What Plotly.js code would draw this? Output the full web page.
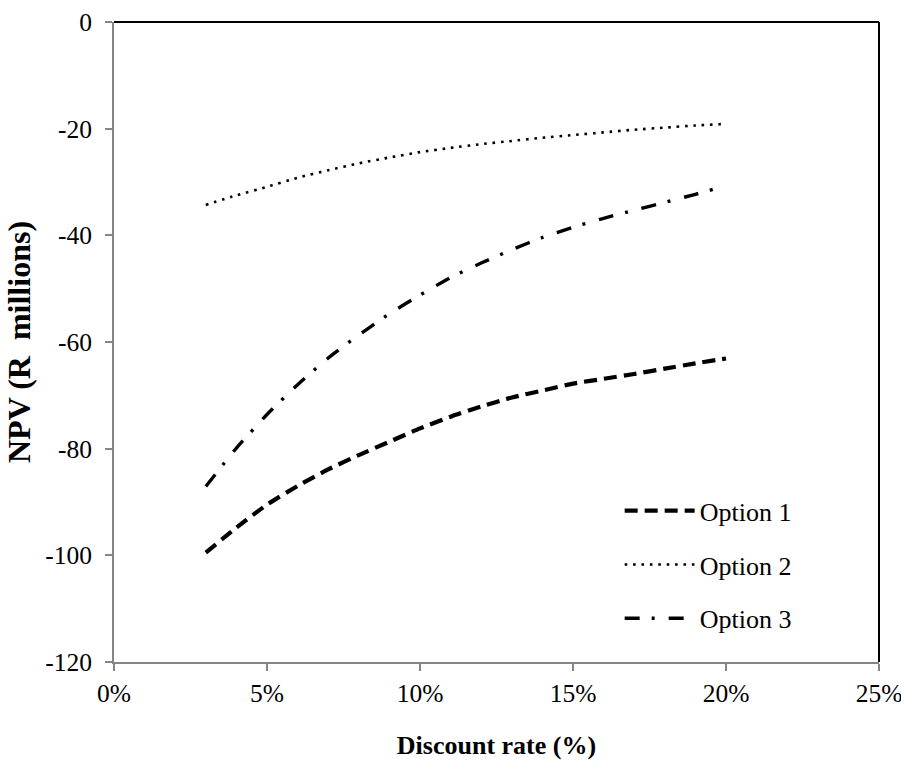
<!DOCTYPE html>
<html>
<head>
<meta charset="utf-8">
<script src="https://cdn.plot.ly/plotly-3.0.1.min.js"></script>
<style>html,body{margin:0;padding:0;background:#fff;}</style>
</head>
<body>
<div id="chart" style="width:901px;height:760px;"></div>
<script>
const rates = [0.03,0.04,0.05,0.06,0.07,0.08,0.09,0.10,0.11,0.12,0.13,0.14,0.15,0.16,0.17,0.18,0.19,0.20];
const option1 = [-99.5,-94.8,-90.5,-87.0,-83.9,-81.2,-78.7,-76.2,-74.0,-72.1,-70.4,-69.1,-67.8,-66.9,-66.0,-65.0,-64.0,-63.1];
const option2 = [-34.3,-32.5,-30.9,-29.2,-27.8,-26.5,-25.4,-24.4,-23.6,-22.9,-22.3,-21.7,-21.2,-20.7,-20.2,-19.8,-19.4,-19.1];
const option3 = [-87.1,-79.9,-73.6,-68.0,-63.0,-58.7,-54.7,-51.2,-47.9,-45.2,-42.7,-40.4,-38.5,-36.8,-35.3,-33.8,-32.3,-30.7];
const seriesNames = ['Option 1','Option 2','Option 3'];
const xTickVals = [0,0.05,0.10,0.15,0.20,0.25];
const xTickText = ['0%','5%','10%','15%','20%','25%'];
const yTickVals = [0,-20,-40,-60,-80,-100,-120];
const yTickText = ['0','-20','-40','-60','-80','-100','-120'];

const FONT = 'Liberation Serif, Times New Roman, serif';
const styles = [
  {width:4.2, dash:'13px,7px'},
  {width:2.6, dash:'2.6px,5.8px'},
  {width:3.4, dash:'15px,12px,3px,14px'}
];
const data = [option1, option2, option3].map((ys, i) => ({
  type:'scatter', mode:'lines', x:rates, y:ys, name:seriesNames[i],
  legendgroup:'g'+i,
  line:{color:'#000', width:styles[i].width, dash:styles[i].dash, shape:'spline', smoothing:0.6}
}));

const layout = {
  width:901, height:760,
  margin:{l:114, r:22, t:22, b:98},
  paper_bgcolor:'#fff', plot_bgcolor:'#fff',
  font:{family:FONT, size:25.5, color:'#000'},
  showlegend:true,
  legend:{x:0.661, y:0.273, xanchor:'left', yanchor:'top', bgcolor:'rgba(0,0,0,0)',
          font:{family:FONT, size:26, color:'#000'}, traceorder:'grouped', tracegroupgap:17, itemwidth:70},
  xaxis:{range:[0,0.25], tickvals:xTickVals, ticktext:xTickText, showgrid:false, zeroline:false,
         showline:true, linecolor:'#868686', linewidth:2, ticks:'outside', ticklen:7, tickwidth:2, tickcolor:'#868686',
         tickfont:{family:FONT, size:25.5, color:'#000'}, automargin:false, ticklabeloverflow:'allow',
         title:{text:'Discount rate (%)', font:{family:FONT, size:26, weight:'bold', color:'#000'}, standoff:34}},
  yaxis:{range:[-120,0], tickvals:yTickVals, ticktext:yTickText, showgrid:false, zeroline:false,
         showline:true, linecolor:'#868686', linewidth:2, ticks:'outside', ticklen:7, tickwidth:2, tickcolor:'#868686',
         tickfont:{family:FONT, size:25.5, color:'#000'}, automargin:false, ticklabelstandoff:8, ticklabeloverflow:'allow',
         title:{text:'NPV (R\u00a0 millions)', font:{family:FONT, size:32, weight:'bold', color:'#000'}, standoff:5}},
  shapes:[
    {type:'line', xref:'paper', yref:'paper', x0:0, x1:1, y0:1, y1:1, line:{color:'#000', width:2}},
    {type:'line', xref:'paper', yref:'paper', x0:1, x1:1, y0:0, y1:1, line:{color:'#000', width:2}}
  ]
};
Plotly.newPlot('chart', data, layout, {displayModeBar:false, staticPlot:true});
</script>
</body>
</html>
